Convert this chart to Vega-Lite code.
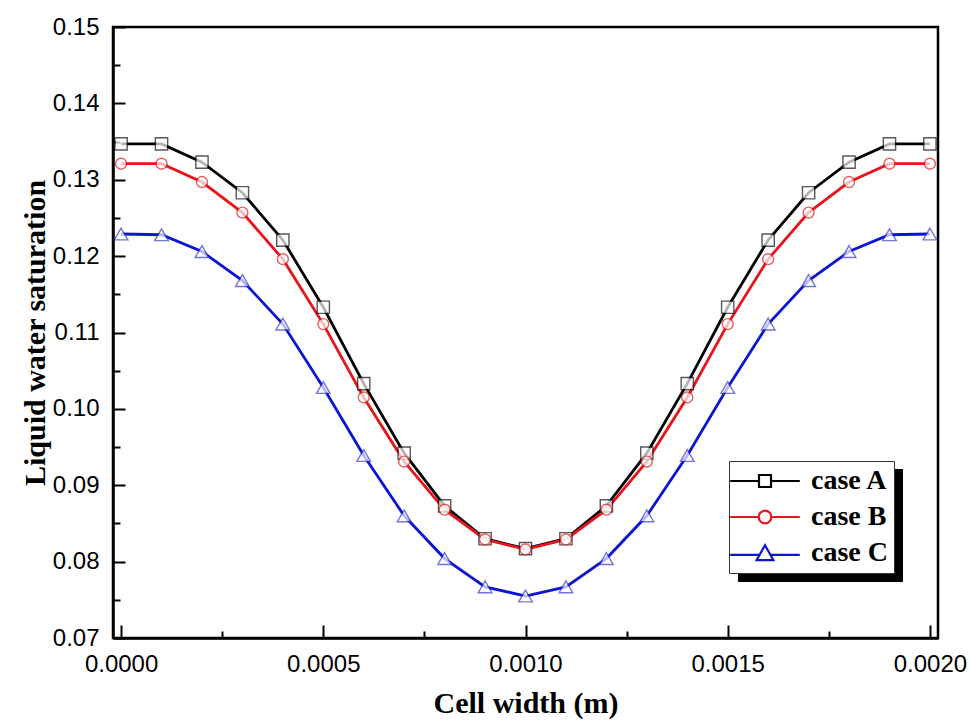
{
  "$schema": "https://vega.github.io/schema/vega-lite/v6.json",
  "width": 825,
  "height": 611,
  "autosize": "none",
  "padding": {"left": 113, "top": 27, "right": 31, "bottom": 86},
  "background": "white",
  "config": {
    "view": {"stroke": "black", "strokeWidth": 2.5},
    "axis": {
      "grid": false,
      "domainColor": "black",
      "domainWidth": 2.5,
      "tickColor": "black",
      "tickWidth": 2,
      "labelFont": "Liberation Sans",
      "labelFontSize": 24,
      "labelColor": "black",
      "titleFont": "Liberation Serif",
      "titleFontWeight": "bold",
      "titleFontSize": 30,
      "titleColor": "black"
    }
  },
  "datasets": {
    "sat": [
      {"x": 0.0000, "y": 0.1347, "series": "case A"},
      {"x": 0.0001, "y": 0.1347, "series": "case A"},
      {"x": 0.0002, "y": 0.1323, "series": "case A"},
      {"x": 0.0003, "y": 0.1283, "series": "case A"},
      {"x": 0.0004, "y": 0.1221, "series": "case A"},
      {"x": 0.0005, "y": 0.1133, "series": "case A"},
      {"x": 0.0006, "y": 0.1033, "series": "case A"},
      {"x": 0.0007, "y": 0.0942, "series": "case A"},
      {"x": 0.0008, "y": 0.0873, "series": "case A"},
      {"x": 0.0009, "y": 0.0830, "series": "case A"},
      {"x": 0.0010, "y": 0.0817, "series": "case A"},
      {"x": 0.0011, "y": 0.0830, "series": "case A"},
      {"x": 0.0012, "y": 0.0873, "series": "case A"},
      {"x": 0.0013, "y": 0.0942, "series": "case A"},
      {"x": 0.0014, "y": 0.1033, "series": "case A"},
      {"x": 0.0015, "y": 0.1133, "series": "case A"},
      {"x": 0.0016, "y": 0.1221, "series": "case A"},
      {"x": 0.0017, "y": 0.1283, "series": "case A"},
      {"x": 0.0018, "y": 0.1323, "series": "case A"},
      {"x": 0.0019, "y": 0.1347, "series": "case A"},
      {"x": 0.0020, "y": 0.1347, "series": "case A"},
      {"x": 0.0000, "y": 0.1321, "series": "case B"},
      {"x": 0.0001, "y": 0.1321, "series": "case B"},
      {"x": 0.0002, "y": 0.1297, "series": "case B"},
      {"x": 0.0003, "y": 0.1257, "series": "case B"},
      {"x": 0.0004, "y": 0.1196, "series": "case B"},
      {"x": 0.0005, "y": 0.1111, "series": "case B"},
      {"x": 0.0006, "y": 0.1015, "series": "case B"},
      {"x": 0.0007, "y": 0.0931, "series": "case B"},
      {"x": 0.0008, "y": 0.0868, "series": "case B"},
      {"x": 0.0009, "y": 0.0829, "series": "case B"},
      {"x": 0.0010, "y": 0.0816, "series": "case B"},
      {"x": 0.0011, "y": 0.0829, "series": "case B"},
      {"x": 0.0012, "y": 0.0868, "series": "case B"},
      {"x": 0.0013, "y": 0.0931, "series": "case B"},
      {"x": 0.0014, "y": 0.1015, "series": "case B"},
      {"x": 0.0015, "y": 0.1111, "series": "case B"},
      {"x": 0.0016, "y": 0.1196, "series": "case B"},
      {"x": 0.0017, "y": 0.1257, "series": "case B"},
      {"x": 0.0018, "y": 0.1297, "series": "case B"},
      {"x": 0.0019, "y": 0.1321, "series": "case B"},
      {"x": 0.0020, "y": 0.1321, "series": "case B"},
      {"x": 0.0000, "y": 0.1229, "series": "case C"},
      {"x": 0.0001, "y": 0.1228, "series": "case C"},
      {"x": 0.0002, "y": 0.1206, "series": "case C"},
      {"x": 0.0003, "y": 0.1168, "series": "case C"},
      {"x": 0.0004, "y": 0.1111, "series": "case C"},
      {"x": 0.0005, "y": 0.1028, "series": "case C"},
      {"x": 0.0006, "y": 0.0939, "series": "case C"},
      {"x": 0.0007, "y": 0.0860, "series": "case C"},
      {"x": 0.0008, "y": 0.0804, "series": "case C"},
      {"x": 0.0009, "y": 0.0767, "series": "case C"},
      {"x": 0.0010, "y": 0.0755, "series": "case C"},
      {"x": 0.0011, "y": 0.0767, "series": "case C"},
      {"x": 0.0012, "y": 0.0804, "series": "case C"},
      {"x": 0.0013, "y": 0.0860, "series": "case C"},
      {"x": 0.0014, "y": 0.0939, "series": "case C"},
      {"x": 0.0015, "y": 0.1028, "series": "case C"},
      {"x": 0.0016, "y": 0.1111, "series": "case C"},
      {"x": 0.0017, "y": 0.1168, "series": "case C"},
      {"x": 0.0018, "y": 0.1206, "series": "case C"},
      {"x": 0.0019, "y": 0.1228, "series": "case C"},
      {"x": 0.0020, "y": 0.1229, "series": "case C"}
    ]
  },
  "data": {"name": "sat"},
  "resolve": {"axis": {"x": "independent", "y": "independent"}},
  "layer": [
    {
      "mark": {"type": "point", "opacity": 0},
      "encoding": {
        "x": {"field": "x", "type": "quantitative", "scale": {"domain": [-0.00002, 0.00202], "nice": false, "zero": false},
              "axis": {"values": [0.00025, 0.00075, 0.00125, 0.00175], "labels": false, "domain": false, "tickSize": -7, "title": null, "orient": "bottom"}},
        "y": {"field": "y", "type": "quantitative", "scale": {"domain": [0.07, 0.15], "nice": false, "zero": false},
              "axis": {"values": [0.075, 0.085, 0.095, 0.105, 0.115, 0.125, 0.135, 0.145], "labels": false, "domain": false, "tickSize": -7, "title": null, "orient": "left"}}
      }
    },
    {
      "mark": {"type": "line", "strokeWidth": 2.8},
      "encoding": {
        "x": {"field": "x", "type": "quantitative",
              "axis": {"values": [0, 0.0005, 0.001, 0.0015, 0.002], "format": ".4f", "tickSize": -13, "labelPadding": 27, "title": "Cell width (m)", "titlePadding": 12, "orient": "bottom"}},
        "y": {"field": "y", "type": "quantitative",
              "axis": {"values": [0.07, 0.08, 0.09, 0.1, 0.11, 0.12, 0.13, 0.14, 0.15], "format": ".2f", "tickSize": -12, "labelPadding": 26, "title": "Liquid water saturation", "titlePadding": 2, "orient": "left"}},
        "color": {"field": "series", "type": "nominal", "scale": {"domain": ["case A", "case B", "case C"], "range": ["#000000", "#e8141b", "#0a14d2"]},
                  "legend": {"orient": "none", "legendX": 625, "legendY": 442, "title": null,
                             "fillColor": "black", "strokeColor": "black",
                             "padding": 6, "rowPadding": 8, "symbolSize": 144, "symbolOffset": 16, "labelOffset": 32,
                             "symbolType": "M-5.8,-2.15H20.2V2.15H-5.8Z",
                             "symbolFillColor": "black", "symbolStrokeWidth": 0, "symbolOpacity": 1,
                             "labelExpr": "''",
                             "labelFont": "Liberation Serif", "labelFontWeight": "bold", "labelFontSize": 28, "labelColor": "black"}}
      }
    },
    {
      "transform": [{"filter": "datum.series == 'case A'"}],
      "mark": {"type": "point", "shape": "square", "size": 150, "filled": true, "fill": "white", "stroke": "#111111", "strokeWidth": 1.4},
      "encoding": {
        "x": {"field": "x", "type": "quantitative", "axis": null},
        "y": {"field": "y", "type": "quantitative", "axis": null}
      }
    },
    {
      "transform": [{"filter": "datum.series == 'case B'"}],
      "mark": {"type": "point", "shape": "circle", "size": 120, "filled": true, "fill": "white", "stroke": "#d81e1e", "strokeWidth": 1.4},
      "encoding": {
        "x": {"field": "x", "type": "quantitative", "axis": null},
        "y": {"field": "y", "type": "quantitative", "axis": null}
      }
    },
    {
      "transform": [{"filter": "datum.series == 'case C'"}],
      "mark": {"type": "point", "shape": "triangle-up", "size": 185, "filled": true, "fill": "white", "stroke": "#3a3ac8", "strokeWidth": 1.4},
      "encoding": {
        "x": {"field": "x", "type": "quantitative", "axis": null},
        "y": {"field": "y", "type": "quantitative", "axis": null}
      }
    },
    {
      "mark": {"type": "point", "opacity": 0, "filled": true, "fill": "white"},
      "encoding": {
        "x": {"field": "x", "type": "quantitative", "axis": null},
        "y": {"field": "y", "type": "quantitative", "axis": null},
        "stroke": {"field": "series", "type": "nominal",
                   "scale": {"range": ["#000000", "#e8141b", "#0a14d2"]},
                   "legend": {"orient": "none", "legendX": 616, "legendY": 434, "title": null,
                              "fillColor": "white", "strokeColor": "#333333",
                              "padding": 6, "rowPadding": 8, "symbolSize": 144, "symbolOffset": 16, "labelOffset": 32,
                              "symbolOpacity": 1, "symbolFillColor": "white", "symbolStrokeWidth": 2.2,
                              "labelFont": "Liberation Serif", "labelFontWeight": "bold", "labelFontSize": 28, "labelColor": "black"}},
        "shape": {"field": "series", "type": "nominal",
                  "scale": {"range": [
                    "M-5.8,0H-1M1,0H5.8M-1,-1H1V1H-1Z",
                    "M-5.8,0H-1.05M1.05,0H5.8M-1.05,0A1.05,1.05,0,1,1,1.05,0A1.05,1.05,0,1,1,-1.05,0Z",
                    "M-5.8,0.3H-0.85M0.85,0.3H5.8M-1.4,1.2H1.4L0,-1.3Z"
                  ]}}
      }
    }
  ]
}
